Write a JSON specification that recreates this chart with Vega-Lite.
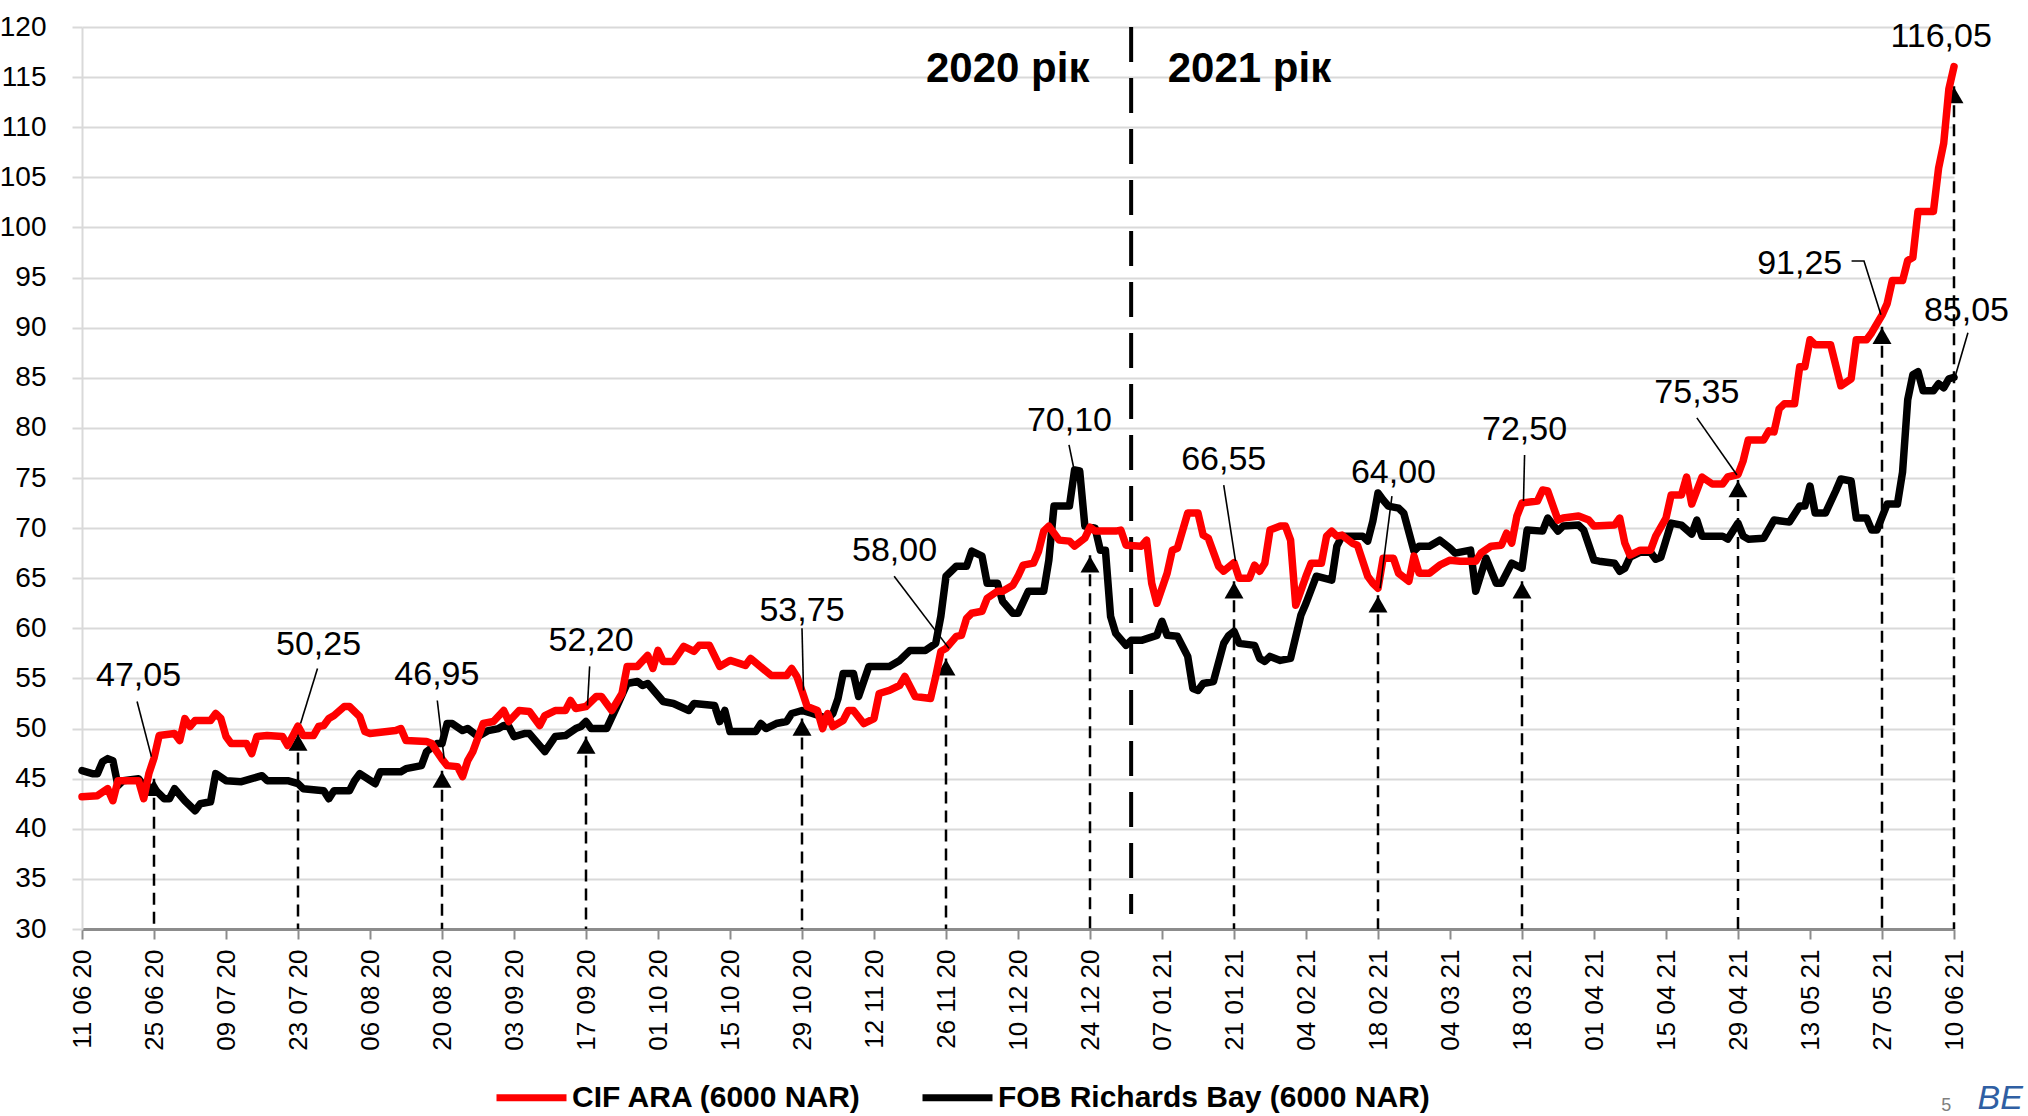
{
  "$schema": "https://vega.github.io/schema/vega-lite/v6.json",
  "width": 1872,
  "height": 902,
  "autosize": "none",
  "padding": {"left": 82, "top": 27, "right": 74, "bottom": 187},
  "config": {"view": {"stroke": null}, "font": "Liberation Sans"},
  "datasets": {
    "cif": [
      {"d":"2020-06-11","v":43.2},{"d":"2020-06-14","v":43.3},{"d":"2020-06-16","v":44.0},{"d":"2020-06-17","v":42.8},{"d":"2020-06-18","v":44.8},{"d":"2020-06-22","v":44.8},{"d":"2020-06-23","v":43.0},{"d":"2020-06-24","v":45.5},{"d":"2020-06-25","v":47.05},{"d":"2020-06-26","v":49.3},{"d":"2020-06-29","v":49.5},{"d":"2020-06-30","v":48.8},
      {"d":"2020-07-01","v":51.0},{"d":"2020-07-02","v":50.2},{"d":"2020-07-03","v":50.8},{"d":"2020-07-06","v":50.8},{"d":"2020-07-07","v":51.5},{"d":"2020-07-08","v":51.0},{"d":"2020-07-09","v":49.2},{"d":"2020-07-10","v":48.5},{"d":"2020-07-13","v":48.5},{"d":"2020-07-14","v":47.5},{"d":"2020-07-15","v":49.2},{"d":"2020-07-17","v":49.3},{"d":"2020-07-20","v":49.2},{"d":"2020-07-21","v":48.3},{"d":"2020-07-23","v":50.25},{"d":"2020-07-24","v":49.3},{"d":"2020-07-26","v":49.3},{"d":"2020-07-27","v":50.2},{"d":"2020-07-28","v":50.3},{"d":"2020-07-29","v":51.0},{"d":"2020-07-30","v":51.3},
      {"d":"2020-08-01","v":52.2},{"d":"2020-08-02","v":52.2},{"d":"2020-08-04","v":51.2},{"d":"2020-08-05","v":49.7},{"d":"2020-08-06","v":49.5},{"d":"2020-08-11","v":49.8},{"d":"2020-08-12","v":50.0},{"d":"2020-08-13","v":48.8},{"d":"2020-08-17","v":48.7},{"d":"2020-08-18","v":48.5},{"d":"2020-08-19","v":47.7},{"d":"2020-08-20","v":46.95},{"d":"2020-08-21","v":46.3},{"d":"2020-08-23","v":46.2},{"d":"2020-08-24","v":45.2},{"d":"2020-08-25","v":46.8},{"d":"2020-08-26","v":47.7},{"d":"2020-08-28","v":50.5},{"d":"2020-08-30","v":50.7},
      {"d":"2020-09-01","v":51.8},{"d":"2020-09-02","v":50.7},{"d":"2020-09-04","v":51.8},{"d":"2020-09-06","v":51.7},{"d":"2020-09-08","v":50.3},{"d":"2020-09-09","v":51.3},{"d":"2020-09-11","v":51.8},{"d":"2020-09-13","v":51.8},{"d":"2020-09-14","v":52.8},{"d":"2020-09-15","v":52.0},{"d":"2020-09-17","v":52.2},{"d":"2020-09-19","v":53.2},{"d":"2020-09-20","v":53.2},{"d":"2020-09-22","v":51.8},{"d":"2020-09-24","v":53.5},{"d":"2020-09-25","v":56.2},{"d":"2020-09-27","v":56.2},{"d":"2020-09-29","v":57.3},{"d":"2020-09-30","v":56.0},
      {"d":"2020-10-01","v":57.8},{"d":"2020-10-02","v":56.7},{"d":"2020-10-04","v":56.7},{"d":"2020-10-06","v":58.2},{"d":"2020-10-08","v":57.7},{"d":"2020-10-09","v":58.3},{"d":"2020-10-11","v":58.3},{"d":"2020-10-13","v":56.2},{"d":"2020-10-15","v":56.8},{"d":"2020-10-18","v":56.3},{"d":"2020-10-19","v":57.0},{"d":"2020-10-23","v":55.3},{"d":"2020-10-26","v":55.3},{"d":"2020-10-27","v":56.0},{"d":"2020-10-28","v":55.2},{"d":"2020-10-29","v":53.75},{"d":"2020-10-30","v":52.2},
      {"d":"2020-11-01","v":51.8},{"d":"2020-11-02","v":50.0},{"d":"2020-11-03","v":51.5},{"d":"2020-11-04","v":50.2},{"d":"2020-11-06","v":50.8},{"d":"2020-11-07","v":51.8},{"d":"2020-11-08","v":51.8},{"d":"2020-11-10","v":50.5},{"d":"2020-11-12","v":51.0},{"d":"2020-11-13","v":53.5},{"d":"2020-11-15","v":53.8},{"d":"2020-11-17","v":54.3},{"d":"2020-11-18","v":55.2},{"d":"2020-11-20","v":53.2},{"d":"2020-11-23","v":53.0},{"d":"2020-11-24","v":55.2},{"d":"2020-11-25","v":57.7},{"d":"2020-11-26","v":58.0},{"d":"2020-11-28","v":59.2},{"d":"2020-11-29","v":59.3},{"d":"2020-11-30","v":61.0},
      {"d":"2020-12-01","v":61.5},{"d":"2020-12-03","v":61.7},{"d":"2020-12-04","v":63.0},{"d":"2020-12-06","v":63.7},{"d":"2020-12-07","v":63.7},{"d":"2020-12-09","v":64.3},{"d":"2020-12-10","v":65.2},{"d":"2020-12-11","v":66.3},{"d":"2020-12-13","v":66.5},{"d":"2020-12-14","v":67.7},{"d":"2020-12-15","v":69.7},{"d":"2020-12-16","v":70.2},{"d":"2020-12-18","v":68.8},{"d":"2020-12-20","v":68.7},{"d":"2020-12-21","v":68.2},{"d":"2020-12-23","v":69.0},{"d":"2020-12-24","v":70.1},{"d":"2020-12-25","v":69.7},{"d":"2020-12-29","v":69.7},{"d":"2020-12-30","v":69.8},{"d":"2020-12-31","v":68.3},
      {"d":"2021-01-03","v":68.2},{"d":"2021-01-04","v":68.8},{"d":"2021-01-05","v":64.5},{"d":"2021-01-06","v":62.5},{"d":"2021-01-08","v":65.5},{"d":"2021-01-09","v":67.8},{"d":"2021-01-10","v":68.0},{"d":"2021-01-12","v":71.5},{"d":"2021-01-14","v":71.5},{"d":"2021-01-15","v":69.3},{"d":"2021-01-16","v":69.0},{"d":"2021-01-18","v":66.2},{"d":"2021-01-19","v":65.7},{"d":"2021-01-21","v":66.55},{"d":"2021-01-22","v":65.0},{"d":"2021-01-24","v":65.0},{"d":"2021-01-25","v":66.3},{"d":"2021-01-26","v":65.7},{"d":"2021-01-27","v":66.5},{"d":"2021-01-28","v":69.8},{"d":"2021-01-30","v":70.2},{"d":"2021-01-31","v":70.2},
      {"d":"2021-02-01","v":68.8},{"d":"2021-02-02","v":62.3},{"d":"2021-02-04","v":65.2},{"d":"2021-02-05","v":66.5},{"d":"2021-02-07","v":66.5},{"d":"2021-02-08","v":69.2},{"d":"2021-02-09","v":69.7},{"d":"2021-02-10","v":69.2},{"d":"2021-02-11","v":69.3},{"d":"2021-02-13","v":68.5},{"d":"2021-02-14","v":68.3},{"d":"2021-02-16","v":65.2},{"d":"2021-02-17","v":64.5},{"d":"2021-02-18","v":64.0},{"d":"2021-02-19","v":67.0},{"d":"2021-02-21","v":67.0},{"d":"2021-02-22","v":65.5},{"d":"2021-02-24","v":64.7},{"d":"2021-02-25","v":67.2},{"d":"2021-02-26","v":65.5},{"d":"2021-02-28","v":65.5},
      {"d":"2021-03-02","v":66.3},{"d":"2021-03-04","v":66.8},{"d":"2021-03-06","v":66.7},{"d":"2021-03-09","v":66.7},{"d":"2021-03-10","v":67.5},{"d":"2021-03-12","v":68.2},{"d":"2021-03-14","v":68.3},{"d":"2021-03-15","v":69.5},{"d":"2021-03-16","v":68.5},{"d":"2021-03-17","v":71.2},{"d":"2021-03-18","v":72.5},{"d":"2021-03-21","v":72.7},{"d":"2021-03-22","v":73.8},{"d":"2021-03-23","v":73.7},{"d":"2021-03-25","v":70.8},{"d":"2021-03-26","v":71.0},{"d":"2021-03-29","v":71.2},{"d":"2021-03-31","v":70.8},
      {"d":"2021-04-01","v":70.2},{"d":"2021-04-05","v":70.3},{"d":"2021-04-06","v":71.0},{"d":"2021-04-07","v":68.5},{"d":"2021-04-08","v":67.3},{"d":"2021-04-10","v":67.8},{"d":"2021-04-12","v":67.8},{"d":"2021-04-13","v":69.2},{"d":"2021-04-15","v":71.0},{"d":"2021-04-16","v":73.3},{"d":"2021-04-18","v":73.3},{"d":"2021-04-19","v":75.1},{"d":"2021-04-20","v":72.4},{"d":"2021-04-22","v":75.1},{"d":"2021-04-24","v":74.4},{"d":"2021-04-26","v":74.4},{"d":"2021-04-27","v":75.1},{"d":"2021-04-29","v":75.35},{"d":"2021-04-30","v":76.7},
      {"d":"2021-05-01","v":78.8},{"d":"2021-05-04","v":78.8},{"d":"2021-05-05","v":79.7},{"d":"2021-05-06","v":79.6},{"d":"2021-05-07","v":81.9},{"d":"2021-05-08","v":82.4},{"d":"2021-05-10","v":82.4},{"d":"2021-05-11","v":86.1},{"d":"2021-05-12","v":86.1},{"d":"2021-05-13","v":88.8},{"d":"2021-05-14","v":88.3},{"d":"2021-05-17","v":88.3},{"d":"2021-05-19","v":84.2},{"d":"2021-05-21","v":84.9},{"d":"2021-05-22","v":88.8},{"d":"2021-05-24","v":88.8},{"d":"2021-05-25","v":89.5},{"d":"2021-05-27","v":91.25},{"d":"2021-05-28","v":92.4},{"d":"2021-05-29","v":94.7},{"d":"2021-05-31","v":94.7},
      {"d":"2021-06-01","v":96.7},{"d":"2021-06-02","v":97.0},{"d":"2021-06-03","v":101.6},{"d":"2021-06-06","v":101.6},{"d":"2021-06-07","v":105.9},{"d":"2021-06-08","v":108.4},{"d":"2021-06-09","v":113.8},{"d":"2021-06-10","v":116.05}
    ],
    "fob": [
      {"d":"2020-06-11","v":45.8},{"d":"2020-06-13","v":45.5},{"d":"2020-06-14","v":45.5},{"d":"2020-06-15","v":46.7},{"d":"2020-06-16","v":47.0},{"d":"2020-06-17","v":46.8},{"d":"2020-06-18","v":44.3},{"d":"2020-06-19","v":44.8},{"d":"2020-06-22","v":45.0},{"d":"2020-06-23","v":44.3},{"d":"2020-06-24","v":44.2},{"d":"2020-06-25","v":44.0},{"d":"2020-06-27","v":43.0},{"d":"2020-06-28","v":43.0},{"d":"2020-06-29","v":44.0},
      {"d":"2020-07-01","v":42.8},{"d":"2020-07-03","v":41.8},{"d":"2020-07-04","v":42.5},{"d":"2020-07-06","v":42.7},{"d":"2020-07-07","v":45.5},{"d":"2020-07-09","v":44.8},{"d":"2020-07-12","v":44.7},{"d":"2020-07-14","v":45.0},{"d":"2020-07-16","v":45.3},{"d":"2020-07-17","v":44.8},{"d":"2020-07-21","v":44.8},{"d":"2020-07-23","v":44.5},{"d":"2020-07-24","v":44.0},{"d":"2020-07-28","v":43.8},{"d":"2020-07-29","v":43.0},{"d":"2020-07-30","v":43.8},
      {"d":"2020-08-02","v":43.8},{"d":"2020-08-03","v":44.8},{"d":"2020-08-04","v":45.5},{"d":"2020-08-07","v":44.5},{"d":"2020-08-08","v":45.7},{"d":"2020-08-12","v":45.7},{"d":"2020-08-13","v":46.0},{"d":"2020-08-15","v":46.2},{"d":"2020-08-16","v":46.3},{"d":"2020-08-17","v":47.7},{"d":"2020-08-19","v":48.5},{"d":"2020-08-20","v":48.5},{"d":"2020-08-21","v":50.5},{"d":"2020-08-22","v":50.5},{"d":"2020-08-24","v":49.8},{"d":"2020-08-25","v":50.0},{"d":"2020-08-27","v":49.2},{"d":"2020-08-29","v":49.8},{"d":"2020-08-31","v":50.0},
      {"d":"2020-09-01","v":50.3},{"d":"2020-09-02","v":50.2},{"d":"2020-09-03","v":49.2},{"d":"2020-09-05","v":49.5},{"d":"2020-09-06","v":49.5},{"d":"2020-09-08","v":48.3},{"d":"2020-09-09","v":47.7},{"d":"2020-09-11","v":49.2},{"d":"2020-09-13","v":49.3},{"d":"2020-09-15","v":50.0},{"d":"2020-09-16","v":50.2},{"d":"2020-09-17","v":50.7},{"d":"2020-09-18","v":50.0},{"d":"2020-09-21","v":50.0},{"d":"2020-09-23","v":52.2},{"d":"2020-09-25","v":54.5},{"d":"2020-09-27","v":54.7},{"d":"2020-09-28","v":54.3},{"d":"2020-09-29","v":54.5},
      {"d":"2020-10-02","v":52.7},{"d":"2020-10-04","v":52.5},{"d":"2020-10-07","v":51.8},{"d":"2020-10-08","v":52.5},{"d":"2020-10-12","v":52.3},{"d":"2020-10-13","v":50.7},{"d":"2020-10-14","v":51.8},{"d":"2020-10-15","v":49.7},{"d":"2020-10-20","v":49.7},{"d":"2020-10-21","v":50.5},{"d":"2020-10-22","v":50.0},{"d":"2020-10-24","v":50.5},{"d":"2020-10-26","v":50.7},{"d":"2020-10-27","v":51.5},{"d":"2020-10-29","v":51.8},{"d":"2020-10-31","v":51.5},
      {"d":"2020-11-03","v":51.0},{"d":"2020-11-04","v":51.5},{"d":"2020-11-05","v":53.0},{"d":"2020-11-06","v":55.5},{"d":"2020-11-08","v":55.5},{"d":"2020-11-09","v":53.2},{"d":"2020-11-11","v":56.2},{"d":"2020-11-15","v":56.2},{"d":"2020-11-17","v":56.8},{"d":"2020-11-19","v":57.8},{"d":"2020-11-22","v":57.8},{"d":"2020-11-24","v":58.5},{"d":"2020-11-25","v":61.2},{"d":"2020-11-26","v":65.2},{"d":"2020-11-28","v":66.2},{"d":"2020-11-30","v":66.2},
      {"d":"2020-12-01","v":67.7},{"d":"2020-12-03","v":67.2},{"d":"2020-12-04","v":64.5},{"d":"2020-12-06","v":64.5},{"d":"2020-12-07","v":62.7},{"d":"2020-12-09","v":61.5},{"d":"2020-12-10","v":61.5},{"d":"2020-12-12","v":63.7},{"d":"2020-12-15","v":63.7},{"d":"2020-12-16","v":66.8},{"d":"2020-12-17","v":72.2},{"d":"2020-12-20","v":72.2},{"d":"2020-12-21","v":75.8},{"d":"2020-12-22","v":75.7},{"d":"2020-12-23","v":70.2},{"d":"2020-12-25","v":70.0},{"d":"2020-12-26","v":67.8},{"d":"2020-12-27","v":67.8},{"d":"2020-12-28","v":61.2},{"d":"2020-12-29","v":59.5},{"d":"2020-12-31","v":58.3},
      {"d":"2021-01-01","v":58.8},{"d":"2021-01-03","v":58.8},{"d":"2021-01-06","v":59.3},{"d":"2021-01-07","v":60.7},{"d":"2021-01-08","v":59.3},{"d":"2021-01-10","v":59.2},{"d":"2021-01-12","v":57.2},{"d":"2021-01-13","v":54.0},{"d":"2021-01-14","v":53.8},{"d":"2021-01-15","v":54.5},{"d":"2021-01-17","v":54.7},{"d":"2021-01-19","v":58.5},{"d":"2021-01-20","v":59.3},{"d":"2021-01-21","v":59.7},{"d":"2021-01-22","v":58.5},{"d":"2021-01-25","v":58.3},{"d":"2021-01-26","v":57.0},{"d":"2021-01-27","v":56.7},{"d":"2021-01-28","v":57.2},{"d":"2021-01-30","v":56.8},
      {"d":"2021-02-01","v":57.0},{"d":"2021-02-03","v":61.3},{"d":"2021-02-04","v":62.5},{"d":"2021-02-06","v":65.2},{"d":"2021-02-09","v":64.8},{"d":"2021-02-10","v":68.2},{"d":"2021-02-11","v":69.2},{"d":"2021-02-15","v":69.2},{"d":"2021-02-16","v":68.7},{"d":"2021-02-17","v":70.7},{"d":"2021-02-18","v":73.5},{"d":"2021-02-19","v":72.8},{"d":"2021-02-20","v":72.2},{"d":"2021-02-22","v":72.0},{"d":"2021-02-23","v":71.5},{"d":"2021-02-25","v":67.7},{"d":"2021-02-26","v":68.2},{"d":"2021-02-28","v":68.2},
      {"d":"2021-03-02","v":68.8},{"d":"2021-03-04","v":68.0},{"d":"2021-03-05","v":67.5},{"d":"2021-03-08","v":67.8},{"d":"2021-03-09","v":63.7},{"d":"2021-03-11","v":67.0},{"d":"2021-03-13","v":64.5},{"d":"2021-03-14","v":64.5},{"d":"2021-03-16","v":66.5},{"d":"2021-03-18","v":66.0},{"d":"2021-03-19","v":69.8},{"d":"2021-03-22","v":69.7},{"d":"2021-03-23","v":71.0},{"d":"2021-03-25","v":69.7},{"d":"2021-03-26","v":70.2},{"d":"2021-03-29","v":70.3},{"d":"2021-03-30","v":69.8},
      {"d":"2021-04-01","v":66.8},{"d":"2021-04-02","v":66.7},{"d":"2021-04-05","v":66.5},{"d":"2021-04-06","v":65.7},{"d":"2021-04-07","v":66.0},{"d":"2021-04-08","v":67.1},{"d":"2021-04-10","v":67.6},{"d":"2021-04-12","v":67.6},{"d":"2021-04-13","v":66.9},{"d":"2021-04-14","v":67.1},{"d":"2021-04-16","v":70.5},{"d":"2021-04-18","v":70.3},{"d":"2021-04-20","v":69.4},{"d":"2021-04-21","v":70.8},{"d":"2021-04-22","v":69.2},{"d":"2021-04-26","v":69.2},{"d":"2021-04-27","v":68.9},{"d":"2021-04-29","v":70.5},{"d":"2021-04-30","v":69.2},
      {"d":"2021-05-01","v":68.9},{"d":"2021-05-04","v":69.0},{"d":"2021-05-06","v":70.8},{"d":"2021-05-09","v":70.6},{"d":"2021-05-11","v":72.2},{"d":"2021-05-12","v":72.2},{"d":"2021-05-13","v":74.2},{"d":"2021-05-14","v":71.5},{"d":"2021-05-16","v":71.5},{"d":"2021-05-18","v":73.7},{"d":"2021-05-19","v":74.9},{"d":"2021-05-21","v":74.7},{"d":"2021-05-22","v":71.0},{"d":"2021-05-24","v":71.0},{"d":"2021-05-25","v":69.8},{"d":"2021-05-26","v":69.8},{"d":"2021-05-28","v":72.4},{"d":"2021-05-30","v":72.4},{"d":"2021-05-31","v":75.6},
      {"d":"2021-06-01","v":82.8},{"d":"2021-06-02","v":85.3},{"d":"2021-06-03","v":85.6},{"d":"2021-06-04","v":83.7},{"d":"2021-06-06","v":83.7},{"d":"2021-06-07","v":84.4},{"d":"2021-06-08","v":84.0},{"d":"2021-06-09","v":84.9},{"d":"2021-06-10","v":85.05}
    ],
    "arrows": [
      {"d":"2020-06-25","tip":45.0},{"d":"2020-07-23","tip":49.5},{"d":"2020-08-20","tip":45.8},{"d":"2020-09-17","tip":49.2},{"d":"2020-10-29","tip":51.0},{"d":"2020-11-26","tip":57.0},{"d":"2020-12-24","tip":67.3},{"d":"2021-01-21","tip":64.7},{"d":"2021-02-18","tip":63.3},{"d":"2021-03-18","tip":64.7},{"d":"2021-04-29","tip":74.8},{"d":"2021-05-27","tip":90.1},{"d":"2021-06-10","tip":114.1}
    ],
    "labels": [
      {"d":"2020-06-22","v":55.2,"t":"47,05"},{"d":"2020-07-27","v":58.3,"t":"50,25"},{"d":"2020-08-19","v":55.3,"t":"46,95"},{"d":"2020-09-18","v":58.7,"t":"52,20"},{"d":"2020-10-29","v":61.7,"t":"53,75"},{"d":"2020-11-16","v":67.7,"t":"58,00"},{"d":"2020-12-20","v":80.7,"t":"70,10"},{"d":"2021-01-19","v":76.8,"t":"66,55"},{"d":"2021-02-21","v":75.5,"t":"64,00"},{"d":"2021-03-18T12:00:00Z","v":79.8,"t":"72,50"},{"d":"2021-04-21","v":83.5,"t":"75,35"},{"d":"2021-05-11","v":96.4,"t":"91,25"},{"d":"2021-06-12T10:00:00Z","v":91.7,"t":"85,05"},{"d":"2021-06-07T12:00:00Z","v":119.0,"t":"116,05"}
    ],
    "leaders": [
      {"id":1,"o":1,"d":"2020-06-21T17:00:00Z","v":52.7},{"id":1,"o":2,"d":"2020-06-24T12:00:00Z","v":47.2},
      {"id":2,"o":1,"d":"2020-07-26T19:00:00Z","v":56.0},{"id":2,"o":2,"d":"2020-07-23T12:00:00Z","v":50.5},
      {"id":3,"o":1,"d":"2020-08-19T02:00:00Z","v":52.8},{"id":3,"o":2,"d":"2020-08-20T10:00:00Z","v":47.0},
      {"id":4,"o":1,"d":"2020-09-17T17:00:00Z","v":56.2},{"id":4,"o":2,"d":"2020-09-17T07:00:00Z","v":52.3},
      {"id":5,"o":1,"d":"2020-10-29T00:00:00Z","v":60.0},{"id":5,"o":2,"d":"2020-10-29T07:00:00Z","v":53.8},
      {"id":6,"o":1,"d":"2020-11-15T22:00:00Z","v":65.2},{"id":6,"o":2,"d":"2020-11-26T14:00:00Z","v":58.0},
      {"id":7,"o":1,"d":"2020-12-19T22:00:00Z","v":78.3},{"id":7,"o":2,"d":"2020-12-20T22:00:00Z","v":75.8},
      {"id":8,"o":1,"d":"2021-01-19T00:00:00Z","v":74.3},{"id":8,"o":2,"d":"2021-01-21T07:00:00Z","v":66.7},
      {"id":9,"o":1,"d":"2021-02-20T17:00:00Z","v":73.2},{"id":9,"o":2,"d":"2021-02-18T10:00:00Z","v":64.0},
      {"id":10,"o":1,"d":"2021-03-18T12:00:00Z","v":77.3},{"id":10,"o":2,"d":"2021-03-18T07:00:00Z","v":72.7},
      {"id":11,"o":1,"d":"2021-04-21T00:00:00Z","v":81.0},{"id":11,"o":2,"d":"2021-04-28T19:00:00Z","v":75.3},
      {"id":12,"o":1,"d":"2021-05-21T02:00:00Z","v":96.65},{"id":12,"o":2,"d":"2021-05-23T12:00:00Z","v":96.65},{"id":12,"o":3,"d":"2021-05-26T19:00:00Z","v":91.3},
      {"id":13,"o":1,"d":"2021-06-12T17:00:00Z","v":89.5},{"id":13,"o":2,"d":"2021-06-10T05:00:00Z","v":85.1}
    ],
    "years": [
      {"d":"2020-12-08","v":115.8,"t":"2020 рік"},{"d":"2021-01-24","v":115.8,"t":"2021 рік"}
    ],
    "divider": [{"d":"2021-01-01","top":120}],
    "footer": [
      {"d":"2021-06-08T12:00:00Z","v":12.3,"t":"5","k":"page"},
      {"d":"2021-06-19","v":13.0,"t":"BE","k":"logo"}
    ]
  },
  "encoding": {
    "x": {
      "field": "d", "type": "temporal",
      "scale": {"type": "utc", "domain": [{"year":2020,"month":6,"date":11,"utc":true},{"year":2021,"month":6,"date":10,"utc":true}], "nice": false},
      "axis": {
        "title": null, "format": "%d %m %y", "labelAngle": -90, "labelFontSize": 26, "labelColor": "#000000", "labelFont": "Liberation Sans",
        "labelPadding": 10, "labelOverlap": false, "labelBound": false, "labelFlush": false,
        "grid": false, "domainColor": "#8c8c8c", "domainWidth": 3, "tickColor": "#8c8c8c", "tickWidth": 2, "tickSize": 10,
        "values": [
          {"year":2020,"month":6,"date":11,"utc":true},{"year":2020,"month":6,"date":25,"utc":true},{"year":2020,"month":7,"date":9,"utc":true},{"year":2020,"month":7,"date":23,"utc":true},{"year":2020,"month":8,"date":6,"utc":true},{"year":2020,"month":8,"date":20,"utc":true},{"year":2020,"month":9,"date":3,"utc":true},{"year":2020,"month":9,"date":17,"utc":true},{"year":2020,"month":10,"date":1,"utc":true},{"year":2020,"month":10,"date":15,"utc":true},{"year":2020,"month":10,"date":29,"utc":true},{"year":2020,"month":11,"date":12,"utc":true},{"year":2020,"month":11,"date":26,"utc":true},{"year":2020,"month":12,"date":10,"utc":true},{"year":2020,"month":12,"date":24,"utc":true},
          {"year":2021,"month":1,"date":7,"utc":true},{"year":2021,"month":1,"date":21,"utc":true},{"year":2021,"month":2,"date":4,"utc":true},{"year":2021,"month":2,"date":18,"utc":true},{"year":2021,"month":3,"date":4,"utc":true},{"year":2021,"month":3,"date":18,"utc":true},{"year":2021,"month":4,"date":1,"utc":true},{"year":2021,"month":4,"date":15,"utc":true},{"year":2021,"month":4,"date":29,"utc":true},{"year":2021,"month":5,"date":13,"utc":true},{"year":2021,"month":5,"date":27,"utc":true},{"year":2021,"month":6,"date":10,"utc":true}
        ]
      }
    },
    "y": {
      "field": "v", "type": "quantitative",
      "scale": {"domain": [30, 120], "nice": false, "zero": false},
      "axis": {
        "title": null, "values": [30,35,40,45,50,55,60,65,70,75,80,85,90,95,100,105,110,115,120],
        "labelFontSize": 28, "labelColor": "#000000", "labelFont": "Liberation Sans", "labelPadding": 26,
        "grid": true, "gridColor": "#d9d9d9", "gridWidth": 2,
        "domainColor": "#d9d9d9", "domainWidth": 2, "tickColor": "#d9d9d9", "tickWidth": 2, "tickSize": 10
      }
    }
  },
  "layer": [
    {
      "data": {"name": "divider"},
      "mark": {"type": "rule", "color": "#000000", "strokeWidth": 4, "strokeDash": [35, 16]},
      "encoding": {"y": {"field": "top", "type": "quantitative"}, "y2": {"datum": 31.5}}
    },
    {
      "data": {"name": "arrows"},
      "mark": {"type": "rule", "color": "#000000", "strokeWidth": 2.5, "strokeDash": [12, 7]},
      "encoding": {"y": {"field": "tip", "type": "quantitative"}, "y2": {"datum": 30}}
    },
    {
      "data": {"name": "arrows"},
      "mark": {"type": "point", "shape": "triangle-up", "filled": true, "color": "#000000", "opacity": 1, "size": 360, "yOffset": 9},
      "encoding": {"y": {"field": "tip", "type": "quantitative"}}
    },
    {
      "data": {"name": "fob"},
      "mark": {"type": "line", "strokeWidth": 7.5, "strokeJoin": "round", "strokeCap": "round"},
      "encoding": {
        "color": {"datum": "FOB Richards Bay (6000 NAR)", "type": "nominal",
          "scale": {"domain": ["CIF ARA (6000 NAR)", "FOB Richards Bay (6000 NAR)"], "range": ["#ff0000", "#000000"]},
          "legend": {
            "title": null, "orient": "none", "legendX": 411, "legendY": 1032, "direction": "horizontal",
            "symbolType": "stroke", "symbolSize": 4900, "symbolStrokeWidth": 7,
            "labelFont": "Liberation Sans", "labelFontWeight": "bold", "labelFontSize": 30, "labelColor": "#000000",
            "labelOffset": 2, "columnPadding": 45, "padding": 0, "labelLimit": 0
          }
        }
      }
    },
    {
      "data": {"name": "cif"},
      "mark": {"type": "line", "strokeWidth": 7.5, "strokeJoin": "round", "strokeCap": "round"},
      "encoding": {"color": {"datum": "CIF ARA (6000 NAR)", "type": "nominal"}}
    },
    {
      "data": {"name": "leaders"},
      "mark": {"type": "line", "color": "#000000", "strokeWidth": 1.6},
      "encoding": {"detail": {"field": "id", "type": "nominal"}, "order": {"field": "o", "type": "quantitative"}}
    },
    {
      "data": {"name": "labels"},
      "mark": {"type": "text", "font": "Liberation Sans", "fontSize": 34, "color": "#000000", "align": "center", "baseline": "middle"},
      "encoding": {"text": {"field": "t", "type": "nominal"}}
    },
    {
      "data": {"name": "years"},
      "mark": {"type": "text", "font": "Liberation Sans", "fontSize": 42, "fontWeight": "bold", "color": "#000000", "align": "center", "baseline": "middle"},
      "encoding": {"text": {"field": "t", "type": "nominal"}}
    },
    {
      "data": {"name": "footer"},
      "transform": [{"filter": "datum.k == 'page'"}],
      "mark": {"type": "text", "font": "Liberation Sans", "fontSize": 18, "color": "#7f7f7f", "align": "center", "baseline": "middle"},
      "encoding": {"text": {"field": "t", "type": "nominal"}}
    },
    {
      "data": {"name": "footer"},
      "transform": [{"filter": "datum.k == 'logo'"}],
      "mark": {"type": "text", "font": "Liberation Sans", "fontSize": 34, "fontStyle": "italic", "color": "#2f5fa3", "align": "center", "baseline": "middle"},
      "encoding": {"text": {"field": "t", "type": "nominal"}}
    }
  ]
}
